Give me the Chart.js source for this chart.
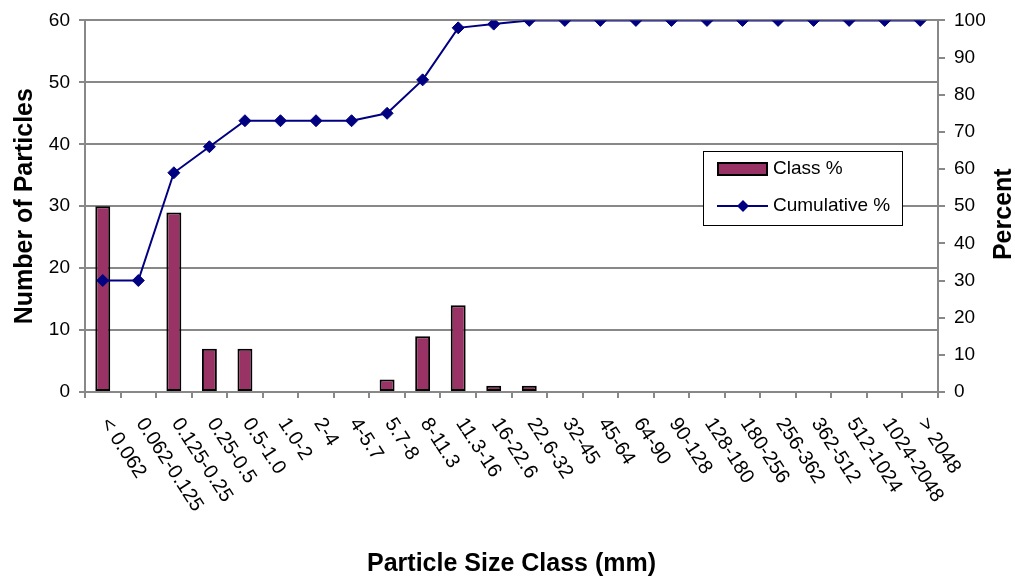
<!DOCTYPE html>
<html>
<head>
<meta charset="utf-8">
<title>Particle Size Class</title>
<script src="https://cdn.jsdelivr.net/npm/chart.js@4"></script>
<style>
  html, body { margin: 0; padding: 0; background: #fff; }
  #wrap { width: 1015px; height: 580px; position: relative; }
</style>
</head>
<body>
<div id="wrap"><canvas id="psd"></canvas></div>
<script>
// size classes (mm)
const sizeClasses = ['< 0.062', '0.062-0.125', '0.125-0.25', '0.25-0.5', '0.5-1.0', '1.0-2', '2-4', '4-5.7',
  '5.7-8', '8-11.3', '11.3-16', '16-22.6', '22.6-32', '32-45', '45-64', '64-90', '90-128', '128-180',
  '180-256', '256-362', '362-512', '512-1024', '1024-2048', '> 2048'];
// particles per class (left axis)
const classCounts = [30, 0, 29, 7, 7, 0, 0, 0, 2, 9, 14, 1, 1, 0, 0, 0, 0, 0, 0, 0, 0, 0, 0, 0];
// cumulative percent (right axis)
const cumulativePct = [30, 30, 59, 66, 73, 73, 73, 73, 75, 84, 98, 99, 100, 100, 100, 100, 100, 100,
  100, 100, 100, 100, 100, 100];

const leftTicks = [0, 10, 20, 30, 40, 50, 60];
const rightTicks = [0, 10, 20, 30, 40, 50, 60, 70, 80, 90, 100];

const FONT = '"Liberation Sans", Arial, sans-serif';
const BAR_COL = '#993366';
const LINE_COL = '#000080';
const AXIS_COL = '#888888';

Chart.defaults.font.family = FONT;
Chart.defaults.color = '#000';

// slanted category labels, drawn from the x scale positions
const slantLabels = {
  id: 'slantLabels',
  afterDraw(chart) {
    const ctx = chart.ctx;
    const xs = chart.scales.x;
    ctx.save();
    ctx.font = '20px ' + FONT;
    ctx.fillStyle = '#000';
    ctx.textAlign = 'left';
    ctx.textBaseline = 'middle';
    sizeClasses.forEach((lbl, i) => {
      const x = xs.getPixelForValue(i);
      ctx.save();
      ctx.translate(x + 2, xs.top + 28);
      ctx.rotate(57 * Math.PI / 180);
      ctx.fillText(lbl, 0, 0);
      ctx.restore();
    });
    ctx.restore();
  }
};

// right axis title reads bottom to top
const rightTitle = {
  id: 'rightTitle',
  afterDraw(chart) {
    const ctx = chart.ctx;
    const ys = chart.scales.y2;
    ctx.save();
    ctx.font = 'bold 25px ' + FONT;
    ctx.fillStyle = '#000';
    ctx.textAlign = 'center';
    ctx.textBaseline = 'middle';
    ctx.translate(ys.right - 11, (ys.top + ys.bottom) / 2 + 8);
    ctx.rotate(-Math.PI / 2);
    ctx.fillText('Percent', 0, 0);
    ctx.restore();
  }
};

// boxed legend inside the plot
const boxLegend = {
  id: 'boxLegend',
  afterDraw(chart) {
    const ctx = chart.ctx;
    const bx = 703, by = 151, bw = 199, bh = 74;
    ctx.save();
    ctx.fillStyle = '#fff';
    ctx.fillRect(bx, by, bw, bh);
    ctx.strokeStyle = '#000';
    ctx.lineWidth = 1;
    ctx.strokeRect(bx + 0.5, by + 0.5, bw, bh);

    // bar swatch
    ctx.fillStyle = '#000';
    ctx.fillRect(717, 162, 51, 14);
    ctx.fillStyle = BAR_COL;
    ctx.fillRect(719, 164, 47, 10);

    // line swatch
    ctx.strokeStyle = LINE_COL;
    ctx.lineWidth = 2;
    ctx.beginPath();
    ctx.moveTo(717, 206);
    ctx.lineTo(768, 206);
    ctx.stroke();
    ctx.fillStyle = LINE_COL;
    ctx.beginPath();
    ctx.moveTo(743, 200);
    ctx.lineTo(749, 206);
    ctx.lineTo(743, 212);
    ctx.lineTo(737, 206);
    ctx.closePath();
    ctx.fill();

    ctx.fillStyle = '#000';
    ctx.font = '19px ' + FONT;
    ctx.textAlign = 'left';
    ctx.textBaseline = 'middle';
    ctx.fillText('Class %', 773, 169);
    ctx.fillText('Cumulative %', 773, 206);
    ctx.restore();
  }
};

new Chart(document.getElementById('psd'), {
  data: {
    labels: sizeClasses,
    datasets: [
      {
        type: 'line',
        label: 'Cumulative %',
        data: cumulativePct,
        yAxisID: 'y2',
        borderColor: LINE_COL,
        backgroundColor: LINE_COL,
        borderWidth: 2,
        tension: 0,
        pointStyle: 'rectRot',
        pointRadius: 6,
        pointBorderWidth: 1,
        pointBackgroundColor: LINE_COL,
        pointBorderColor: LINE_COL,
        order: 0
      },
      {
        type: 'bar',
        label: 'Class %',
        data: classCounts,
        yAxisID: 'y',
        backgroundColor: BAR_COL,
        borderColor: '#000',
        borderWidth: 2,
        borderSkipped: false,
        barPercentage: 0.42,
        categoryPercentage: 1,
        order: 1
      }
    ]
  },
  options: {
    responsive: true,
    maintainAspectRatio: false,
    animation: false,
    layout: { padding: { top: 19, left: 0, right: 0, bottom: 0 } },
    plugins: {
      legend: { display: false },
      tooltip: { enabled: false }
    },
    scales: {
      x: {
        grid: { drawOnChartArea: false, offset: true, color: AXIS_COL, lineWidth: 2, tickLength: 6 },
        border: { color: AXIS_COL, width: 2 },
        ticks: { display: false },
        title: {
          display: true,
          text: 'Particle Size Class (mm)',
          font: { size: 25, weight: 'bold' },
          padding: { top: 0, bottom: 1 }
        },
        afterFit(s) { s.height = 188; }
      },
      y: {
        position: 'left',
        min: 0,
        max: 60,
        afterBuildTicks(s) { s.ticks = leftTicks.map(v => ({ value: v })); },
        grid: { color: AXIS_COL, lineWidth: 2, tickLength: 6 },
        border: { color: AXIS_COL, width: 2 },
        ticks: { font: { size: 19 }, padding: 9 },
        title: {
          display: true,
          text: 'Number of Particles',
          font: { size: 25, weight: 'bold' },
          padding: { top: 10, bottom: 0 }
        },
        afterFit(s) { s.width = 85; }
      },
      y2: {
        position: 'right',
        min: 0,
        max: 100,
        afterBuildTicks(s) { s.ticks = rightTicks.map(v => ({ value: v })); },
        grid: { drawOnChartArea: false, color: AXIS_COL, lineWidth: 2, tickLength: 7 },
        border: { color: AXIS_COL, width: 2 },
        ticks: { font: { size: 19 }, padding: 9 },
        afterFit(s) { s.width = 77; }
      }
    }
  },
  plugins: [slantLabels, rightTitle, boxLegend]
});
</script>
</body>
</html>
